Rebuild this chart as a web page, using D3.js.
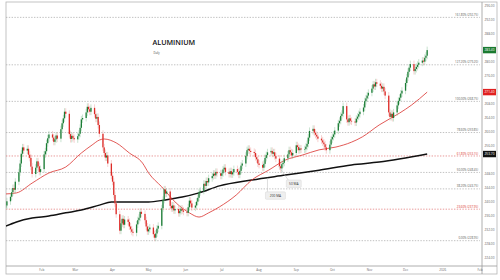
<!DOCTYPE html>
<html>
<head>
<meta charset="utf-8">
<script src="https://cdn.jsdelivr.net/npm/d3@7"></script>
<style>
  html, body { margin: 0; padding: 0; background: #fff; }
  svg { display: block; font-family: "Open Sans", sans-serif; }
</style>
</head>
<body>
<svg id="chart" width="500" height="280"></svg>
<script>
// daily closes, Jan 2 2025 -> Dec 19 2025 (trading days)
var closes = [
  239.0, 240.2,
  241.5, 242.8, 244.0, 243.5, 245.8,
  248.5, 251.0, 253.8, 255.6, 254.7,
  255.2, 253.5, 252.6, 250.1, 248.0,
  249.8, 251.6, 250.2, 248.6, 249.4,
  253.6, 254.5, 256.8, 258.2, 259.3,
  258.4, 257.2, 257.9, 259.0, 258.1,
  260.8, 262.5, 263.9, 265.8, 265.2,
  259.4, 258.0, 258.9, 258.3, 257.9,
  258.8, 259.5, 261.2, 263.6, 264.0,
  265.6, 267.2, 266.5, 265.8, 266.9,
  265.1, 263.8, 264.3, 262.0, 259.5,
  255.6, 254.0, 252.7, 253.3, 251.0,
  247.5, 245.8, 242.0, 239.6, 236.5,
  231.8, 233.9, 235.2, 233.5, 235.0,
  234.3, 233.0, 232.2, 231.5, 231.2,
  233.6, 234.8, 235.5, 237.2, 236.6,
  234.8, 233.0, 231.6, 232.2, 232.7,
  230.8, 229.8, 231.0, 232.4, 233.2,
  238.2, 240.6, 243.6, 242.4, 243.0,
  238.9, 238.2, 239.0, 237.6, 238.0,
  236.8, 237.4, 238.1, 237.6, 237.2,
  236.9, 238.5, 240.4, 239.6, 238.4,
  239.0, 240.1, 241.2, 242.8, 243.2,
  245.2, 244.6, 246.0, 245.6, 246.8,
  247.4, 248.1, 247.6, 248.6, 248.2,
  247.5, 248.2, 249.3, 249.8, 248.6,
  248.0, 248.8, 247.9, 248.5, 249.4,
  248.6, 247.8, 248.9, 250.4, 251.0,
  253.2, 254.8, 255.2, 254.6, 254.3,
  254.0, 252.8, 252.2, 251.0, 250.6,
  249.8, 250.9, 252.6, 253.4, 254.2,
  254.6, 253.8, 254.2, 253.1, 252.4,
  250.2, 249.6, 250.8, 251.2, 252.5,
  253.6, 254.8, 254.2, 253.3, 254.0,
  256.2, 255.7, 254.8, 255.3, 255.0,
  255.1, 255.8, 256.6, 258.4, 260.3,
  260.9, 259.8, 259.2, 258.7, 258.1,
  257.6, 257.0, 256.5, 255.6, 254.8,
  256.4, 257.9, 258.6, 259.3, 260.4,
  262.5, 263.2, 264.6, 265.2, 267.4,
  263.6, 262.8, 263.9, 263.2, 263.0,
  262.7, 263.8, 264.4, 265.1, 265.8,
  267.0, 268.8, 269.6, 270.4, 271.2,
  272.4, 273.6, 273.0, 274.2, 273.8,
  273.2, 272.4, 272.9, 271.6, 270.4,
  265.6, 264.3, 265.2, 264.0, 265.6,
  267.6, 268.9, 269.8, 271.0, 271.8,
  274.0, 275.6, 277.2, 278.4, 279.4,
  277.4, 278.0, 278.6, 279.2, 279.8,
  280.4, 280.1, 281.2, 281.8, 283.4
];
var firstOpen = 238.4;

// moving averages
var ma50Dates = ["2025-01-02","2025-01-11","2025-01-24","2025-02-07","2025-02-21","2025-03-06","2025-03-15",
  "2025-03-21","2025-03-25","2025-04-04","2025-04-15","2025-04-26","2025-05-01","2025-05-12","2025-05-24",
  "2025-06-04","2025-06-12","2025-06-20","2025-06-29","2025-07-13","2025-07-26","2025-08-09","2025-08-23",
  "2025-09-06","2025-09-20","2025-10-04","2025-10-17","2025-10-26","2025-11-09","2025-11-26","2025-12-06","2025-12-19"];
var ma50Values = [242.3, 242.6, 245.4, 248.3, 250.0, 254.0, 256.3,
  257.7, 258.0, 256.9, 254.0, 251.1, 248.3, 244.3, 239.7,
  236.9, 235.7, 236.9, 238.6, 242.0, 246.3, 249.1, 252.0,
  253.4, 254.9, 255.7, 257.1, 258.6, 262.0, 265.4, 267.7, 271.4];

var ma200Dates = ["2025-01-02","2025-01-11","2025-01-24","2025-02-07","2025-02-21","2025-03-06","2025-03-21",
  "2025-03-31","2025-04-15","2025-05-01","2025-05-15","2025-05-29","2025-06-12","2025-06-29","2025-07-26",
  "2025-08-23","2025-09-20","2025-10-17","2025-11-09","2025-12-19"];
var ma200Values = [233.1, 234.3, 235.4, 236.0, 236.9, 237.7, 239.1,
  240.0, 240.0, 240.0, 240.6, 241.4, 242.6, 244.6, 246.3,
  247.7, 249.1, 250.6, 251.4, 253.7];

// fibonacci retracement levels
var fibPct = ["0.00%", "23.60%", "38.20%", "50.00%", "61.80%", "78.60%", "100.00%", "127.20%", "161.80%"];
var fibValues = [228.95, 237.95, 243.75, 248.45, 253.15, 259.85, 268.75, 279.20, 292.75];
var fibRed = [false, true, false, false, true, false, false, false, false];

var yTicks = [224, 228, 232, 236, 240, 244, 248, 252, 256, 260, 264, 268, 272, 276, 280, 284, 288, 292, 296];
var xTickDates = ["2025-02-01","2025-03-01","2025-04-01","2025-05-01","2025-06-01","2025-07-01","2025-08-01",
  "2025-09-01","2025-10-01","2025-11-01","2025-12-01","2026-01-01","2026-02-01"];
var xTickLabels = ["Feb","Mar","Apr","May","Jun","Jul","Aug","Sep","Oct","Nov","Dec","2026","Feb"];

var parseDate = d3.timeParse("%Y-%m-%d");

var svg = d3.select("#chart");
var plotL = 6, plotR = 482, plotT = 2, plotB = 266, frameR = 497, frameB = 274;

var x = d3.scaleTime()
    .domain([parseDate("2025-01-01"), parseDate("2026-02-01")])
    .range([4.5, 480]);
var y = d3.scaleLinear().domain([224, 296]).range([258, 6]);

var up = "#1b7d36", down = "#dd2b27";

// frame
svg.append("rect").attr("x", plotL).attr("y", plotT).attr("width", frameR - plotL).attr("height", frameB - plotT)
    .attr("fill", "none").attr("stroke", "#b5b5b5").attr("stroke-width", 0.8);
svg.append("line").attr("x1", plotR).attr("x2", plotR).attr("y1", plotT).attr("y2", frameB)
    .attr("stroke", "#9a9a9a").attr("stroke-width", 0.8);
svg.append("line").attr("x1", plotL).attr("x2", frameR).attr("y1", plotB).attr("y2", plotB)
    .attr("stroke", "#9a9a9a").attr("stroke-width", 0.8);

svg.append("clipPath").attr("id", "plotclip").append("rect")
    .attr("x", plotL).attr("y", plotT).attr("width", plotR - plotL).attr("height", plotB - plotT);
var g = svg.append("g").attr("clip-path", "url(#plotclip)");

// fib lines + labels
fibValues.forEach(function (v, i) {
  var col = fibRed[i] ? "#e07070" : "#a8a8a8";
  g.append("line").attr("x1", plotL).attr("x2", 480)
      .attr("y1", y(v)).attr("y2", y(v))
      .attr("stroke", col).attr("stroke-width", 0.7).attr("stroke-dasharray", "1.4,1.4");
  g.append("text").attr("x", 478).attr("y", y(v) - 1.4)
      .attr("text-anchor", "end").attr("font-size", 2.9)
      .attr("fill", fibRed[i] ? "#d9302c" : "#555")
      .text(fibPct[i] + " (" + v.toFixed(2) + ")");
});

// title
svg.append("text").attr("x", 152.5).attr("y", 45.3).attr("font-size", 7.2)
    .attr("font-weight", 600).attr("fill", "#111").text("ALUMINIUM");
svg.append("text").attr("x", 153.5).attr("y", 53.5).attr("font-size", 2.7)
    .attr("fill", "#444").text("Daily");

// moving averages
var line = d3.line()
    .curve(d3.curveMonotoneX)
    .x(function (d) { return x(d.date); })
    .y(function (d) { return y(d.value); });

var ma200 = ma200Dates.map(function (d, i) { return { date: parseDate(d), value: ma200Values[i] }; });
var ma50 = ma50Dates.map(function (d, i) { return { date: parseDate(d), value: ma50Values[i] }; });

g.append("path").attr("d", line(ma200)).attr("fill", "none")
    .attr("stroke", "#111").attr("stroke-width", 1.5);
g.append("path").attr("d", line(ma50)).attr("fill", "none")
    .attr("stroke", "#d9302c").attr("stroke-width", 0.8);

// candles
var days = d3.timeDay.range(parseDate("2025-01-02"), parseDate("2025-12-20"))
    .filter(function (d) { return d.getDay() !== 0 && d.getDay() !== 6; });
var candles = days.map(function (d, i) {
  return { date: d, open: i ? closes[i - 1] : firstOpen, close: closes[i] };
});
var wickPad = 1.0, bodyW = 1.3;

var c = g.selectAll(".candle").data(candles).enter().append("g").attr("class", "candle");
c.append("line")
    .attr("x1", function (d) { return x(d.date); })
    .attr("x2", function (d) { return x(d.date); })
    .attr("y1", function (d) { return y(Math.max(d.open, d.close) + wickPad); })
    .attr("y2", function (d) { return y(Math.min(d.open, d.close) - wickPad); })
    .attr("stroke", function (d) { return d.close >= d.open ? "#86c195" : "#ee9a97"; })
    .attr("stroke-width", 0.45);
c.append("rect")
    .attr("x", function (d) { return x(d.date) - bodyW / 2; })
    .attr("width", bodyW)
    .attr("y", function (d) { return y(Math.max(d.open, d.close)); })
    .attr("height", function (d) { return Math.max(0.5, Math.abs(y(d.open) - y(d.close))); })
    .attr("fill", function (d) { return d.close >= d.open ? up : down; });

// MA annotations
function note(date, value, dx, dy, w, label) {
  var px = x(parseDate(date)), py = y(value);
  svg.append("line").attr("x1", px).attr("y1", py).attr("x2", px + dx + 2).attr("y2", py + dy)
      .attr("stroke", "#bdbdbd").attr("stroke-width", 0.5);
  svg.append("rect").attr("x", px + dx).attr("y", py + dy).attr("width", w).attr("height", 7.5)
      .attr("rx", 1).attr("fill", "#efefef").attr("stroke", "#cfcfcf").attr("stroke-width", 0.4);
  svg.append("text").attr("x", px + dx + w / 2).attr("y", py + dy + 5)
      .attr("text-anchor", "middle").attr("font-size", 3.2).attr("fill", "#333").text(label);
}
note("2025-08-17", 250.3, 8, 14, 15, "50 MA");
note("2025-08-08", 246.9, -2, 14, 20, "200 MA");

// right axis (labels hidden where a price tag sits)
var tagValues = [ma200Values[ma200Values.length - 1], ma50Values[ma50Values.length - 1], closes[closes.length - 1]];
svg.append("g").selectAll("text")
    .data(yTicks.filter(function (t) {
      return tagValues.every(function (v) { return Math.abs(y(t) - y(v)) > 6.5; });
    }))
    .enter().append("text")
    .attr("x", 484.5).attr("y", function (d) { return y(d) + 1.1; })
    .attr("font-size", 3.2).attr("fill", "#666")
    .text(function (d) { return d.toFixed(2); });

function priceTag(v, fill) {
  svg.append("rect").attr("x", 483).attr("y", y(v) - 3.2).attr("width", 13).attr("height", 6.4)
      .attr("fill", fill);
  svg.append("text").attr("x", 484.5).attr("y", y(v) + 1.1).attr("font-size", 3.2)
      .attr("fill", "#fff").text(v.toFixed(2));
}
priceTag(tagValues[0], "#111");
priceTag(tagValues[1], "#e02020");
priceTag(tagValues[2], "#1a7a30");

// bottom axis labels
svg.append("g").selectAll("text").data(xTickDates).enter().append("text")
    .attr("x", function (d) { return x(parseDate(d)); })
    .attr("y", 271)
    .attr("text-anchor", "middle").attr("font-size", 3)
    .attr("fill", "#666")
    .text(function (d, i) { return xTickLabels[i]; });
</script>
</body>
</html>
